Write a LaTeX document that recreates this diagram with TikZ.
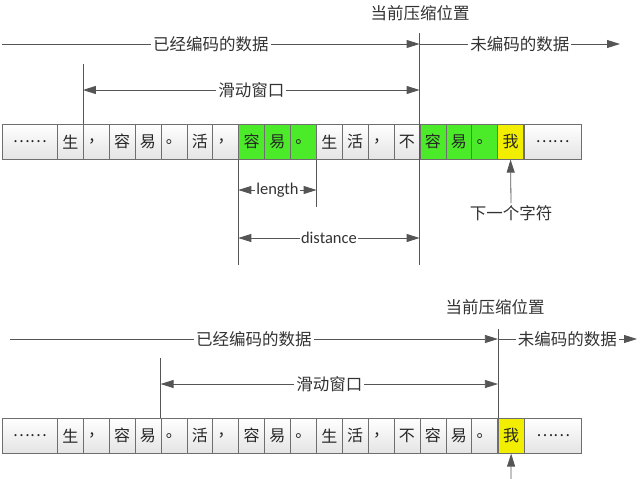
\documentclass[tikz,border=0pt]{standalone}
\usepackage{fontspec}
\setmainfont{Carlito}
\newfontfamily\cjk{Noto Sans CJK SC}
\usetikzlibrary{arrows.meta,positioning}

\definecolor{linegray}{HTML}{555555}
\definecolor{textgray}{HTML}{333333}
\definecolor{cellgray}{HTML}{E4E4E4}
\definecolor{matchgreen}{HTML}{4CEB2A}
\definecolor{nextyellow}{HTML}{F2EE00}

\begin{document}
\begin{tikzpicture}[x=1pt,y=-1pt,>={Triangle[length=13pt,width=8pt]},
		edge line/.style={draw=linegray,line width=0.8pt},
		base node/.style={draw=linegray!85,line width=0.6pt,minimum width=25.9pt,minimum height=35pt,inner sep=0pt,anchor=north west,text=black!85,font=\cjk\fontsize{16}{16}\selectfont},
		cell node/.style={base node,top color=white,bottom color=cellgray},
		match node/.style={base node,fill=matchgreen},
		next node/.style={base node,fill=nextyellow},
		wide node/.style={cell node,minimum width=55pt},
		tag node/.style={fill=white,inner sep=2pt,text=textgray,font=\cjk\fontsize{16.5}{16.5}\selectfont},
		word node/.style={fill=white,inner sep=1pt,text=textgray,font=\fontsize{16.5}{16.5}\selectfont}]
	\useasboundingbox (0,0) rectangle (640,479);

	% 上面: 压缩过程中
	\node[wide node] (t0) at (2,124) {……};
	\foreach \ch/\st [count=\i] in {生/cell node,，/cell node,容/cell node,易/cell node,。/cell node,活/cell node,，/cell node,容/match node,易/match node,。/match node,生/cell node,活/cell node,，/cell node,不/cell node,容/match node,易/match node,。/match node,我/next node}
		\node[\st] (t\i) at ({57+(\i-1)*25.9},124) {\ch};
	\node[wide node,minimum width=57pt] (t19) at (t18.north east) {……};

	\node[tag node] (cur) at (420,13) {当前压缩位置};
	\coordinate (cur top) at (0,33);
	\coordinate (enc y) at (2,44);
	\coordinate (unenc end) at (620,44);
	\coordinate (win top) at (0,64);
	\coordinate (win y) at (0,90);
	\coordinate (len y) at (0,190);
	\coordinate (len bot) at (0,207);
	\coordinate (dist y) at (0,238);
	\coordinate (dist bot) at (0,265);

	\draw[edge line] (t15.north west |- cur top) -- (t15.north west |- dist bot);
	\draw[edge line,->] (enc y) -- (enc y -| t15.north west) node[midway,tag node] {已经编码的数据};
	\draw[edge line,->] (enc y -| t15.north west) -- (unenc end) node[midway,tag node] {未编码的数据};
	\draw[edge line] (t2.north west) -- (t2.north west |- win top);
	\draw[edge line,<->] (t2.north west |- win y) -- (t15.north west |- win y) node[midway,tag node] {滑动窗口};

	\draw[edge line] (t8.south west) -- (t8.south west |- dist bot);
	\draw[edge line] (t10.south east) -- (t10.south east |- len bot);
	\draw[edge line,<->] (t8.south west |- len y) -- (t10.south east |- len y) node[midway,word node] {length};
	\draw[edge line,<->] (t8.south west |- dist y) -- (t15.north west |- dist y) node[midway,word node] {distance};

	\node[tag node] (next) at (511,213) {下一个字符};
	\draw[edge line,->] (next.north) -- (t18.south);

	% 下面: 移动窗口后
	\node[wide node] (b0) at (2,418) {……};
	\foreach \ch [count=\i] in {生,，,容,易,。,活,，,容,易,。,生,活,，,不,容,易,。}
		\node[cell node] (b\i) at ({57+(\i-1)*25.9},418) {\ch};
	\node[next node] (b18) at (b17.north east) {我};
	\node[wide node,minimum width=57pt] (b19) at (b18.north east) {……};

	\node[tag node] (cur2) at (495,307) {当前压缩位置};
	\coordinate (cur2 top) at (0,329);
	\coordinate (enc2 y) at (10,339);
	\coordinate (unenc2 end) at (637,339);
	\coordinate (win2 top) at (0,358);
	\coordinate (win2 y) at (0,384);
	\coordinate (next2) at (511,479);

	\draw[edge line] (b18.north west) -- (b18.north west |- cur2 top);
	\draw[edge line,->] (enc2 y) -- (enc2 y -| b18.north west) node[midway,tag node] {已经编码的数据};
	\draw[edge line,->] (enc2 y -| b18.north west) -- (unenc2 end) node[midway,tag node] {未编码的数据};
	\draw[edge line] (b5.north west) -- (b5.north west |- win2 top);
	\draw[edge line,<->] (b5.north west |- win2 y) -- (b18.north west |- win2 y) node[midway,tag node] {滑动窗口};
	\draw[edge line,->] (next2) -- (b18.south);
\end{tikzpicture}
\end{document}
